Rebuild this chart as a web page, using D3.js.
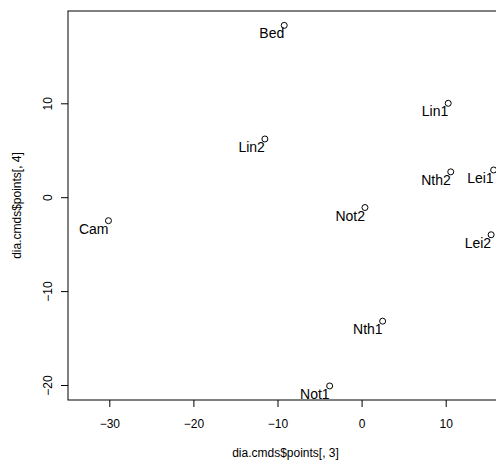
<!DOCTYPE html>
<html>
<head>
<meta charset="utf-8">
<script src="https://cdn.jsdelivr.net/npm/d3@7"></script>
<style>
  body { margin: 0; background: #fff; }
  svg { display: block; font-family: "Liberation Sans", Arial, Helvetica, sans-serif; }
  .tick-label { font-size: 12px; }
  .axis-label { font-size: 12px; }
  .pt-label { font-size: 14px; }
</style>
</head>
<body>
<div id="chart"></div>
<script>
const labels = ["Bed", "Lin2", "Lin1", "Nth2", "Lei1", "Not2", "Lei2", "Cam", "Nth1", "Not1"];
const dim3 = [-9.2, -11.5, 10.3, 10.6, 15.7, 0.4, 15.4, -30.1, 2.5, -3.8];
const dim4 = [18.3, 6.2, 10.0, 2.7, 2.9, -1.1, -4.0, -2.5, -13.2, -20.1];
const xTicks = [-30, -20, -10, 0, 10];
const yTicks = [-20, -10, 0, 10];

const width = 496, height = 461;
// plot region (right edge sits just past the visible area)
const box = { left: 68, right: 503, top: 11, bottom: 400 };

const svg = d3.select("#chart")
  .append("svg")
  .attr("width", width)
  .attr("height", height);

const x = d3.scaleLinear().domain([-30, 10]).range([109.3, 445.7]);
const y = d3.scaleLinear().domain([-20, 10]).range([385, 103.3]);

const minus = d => String(d).replace("-", "\u2212");
const points = labels.map((name, i) => ({ name, x: dim3[i], y: dim4[i] }));

// axes
const xAxis = svg.append("g")
  .attr("transform", `translate(0,${box.bottom})`)
  .call(d3.axisBottom(x).tickValues(xTicks).tickSize(7).tickPadding(12).tickFormat(minus));
xAxis.select(".domain").remove();
xAxis.attr("font-size", null).attr("font-family", null);
xAxis.selectAll("text").attr("class", "tick-label").attr("fill", "#000");

const yAxis = svg.append("g")
  .attr("transform", `translate(${box.left},0)`)
  .call(d3.axisLeft(y).tickValues(yTicks).tickSize(7).tickFormat(minus));
yAxis.select(".domain").remove();
yAxis.attr("font-size", null).attr("font-family", null);
yAxis.selectAll("text")
  .attr("class", "tick-label")
  .attr("fill", "#000")
  .attr("x", null).attr("dy", null)
  .attr("text-anchor", "middle")
  .attr("transform", "translate(-20,0) rotate(-90)")
  .attr("y", 4);

svg.selectAll(".tick line").attr("stroke", "#000");

// box
svg.append("rect")
  .attr("x", box.left)
  .attr("y", box.top)
  .attr("width", box.right - box.left)
  .attr("height", box.bottom - box.top)
  .attr("fill", "none")
  .attr("stroke", "#000")
  .attr("stroke-width", 1);

// axis titles
svg.append("text")
  .attr("class", "axis-label")
  .attr("x", (box.left + box.right) / 2)
  .attr("y", 457)
  .attr("text-anchor", "middle")
  .text("dia.cmds$points[, 3]");

svg.append("text")
  .attr("class", "axis-label")
  .attr("transform", "rotate(-90)")
  .attr("x", -(box.top + box.bottom) / 2)
  .attr("y", 21)
  .attr("text-anchor", "middle")
  .text("dia.cmds$points[, 4]");

// points + labels
svg.selectAll("circle.pt")
  .data(points)
  .enter()
  .append("circle")
  .attr("class", "pt")
  .attr("cx", d => x(d.x))
  .attr("cy", d => y(d.y))
  .attr("r", 3)
  .attr("fill", "none")
  .attr("stroke", "#000");

svg.selectAll("text.pt-label")
  .data(points)
  .enter()
  .append("text")
  .attr("class", "pt-label")
  .attr("x", d => x(d.x))
  .attr("y", d => y(d.y) + 13)
  .attr("text-anchor", "end")
  .text(d => d.name);
</script>
</body>
</html>
